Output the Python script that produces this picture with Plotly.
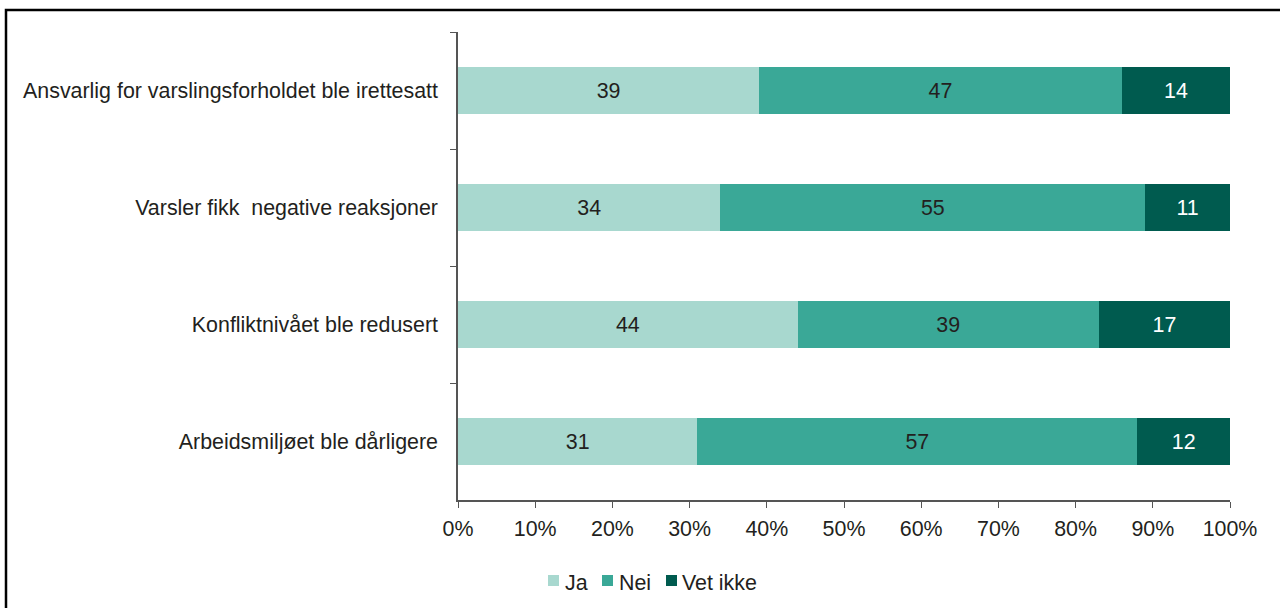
import plotly.graph_objects as go

categories = [
    "Ansvarlig for varslingsforholdet ble irettesatt",
    "Varsler fikk  negative reaksjoner",
    "Konfliktnivået ble redusert",
    "Arbeidsmiljøet ble dårligere",
]
ja = [39, 34, 44, 31]
nei = [47, 55, 39, 57]
vet_ikke = [14, 11, 17, 12]
x_ticks = [0, 10, 20, 30, 40, 50, 60, 70, 80, 90, 100]

FONT = "Liberation Sans, Arial, sans-serif"
FS = 21.4
TEXT = "#231f20"
AXIS = "#555555"

series = [
    ("Ja", ja, "#a8d8cf", TEXT),
    ("Nei", nei, "#3aa897", TEXT),
    ("Vet ikke", vet_ikke, "#005b4f", "white"),
]

fig = go.Figure()
for name, vals, color, tcolor in series:
    fig.add_trace(go.Bar(
        name=name,
        y=categories,
        x=vals,
        orientation="h",
        marker=dict(color=color, line=dict(width=0)),
        text=[str(v) for v in vals],
        textposition="inside",
        insidetextanchor="middle",
        textangle=0,
        textfont=dict(family=FONT, size=FS, color=tcolor),
        hoverinfo="skip",
        showlegend=False,
    ))

W, H = 1280, 608
L, R, T, B = 458, 50, 32, 108
pw, ph = W - L - R, H - T - B

def px_x(x):
    return (x - L) / pw

def px_y(y):
    return 1 - (y - T) / ph

# compact legend: small square key followed by its label
legend_keys = [(548, 563), (602, 617), (666, 680)]
shapes = []
annotations = []
for (name, _, color, _), (kx, tx) in zip(series, legend_keys):
    shapes.append(dict(
        type="rect", xref="paper", yref="paper",
        x0=px_x(kx), x1=px_x(kx + 11), y0=px_y(586), y1=px_y(575),
        line=dict(width=0), fillcolor=color,
    ))
    annotations.append(dict(
        xref="paper", yref="paper", x=px_x(tx), y=px_y(583),
        xanchor="left", yanchor="middle", showarrow=False,
        text=name, font=dict(family=FONT, size=FS, color=TEXT),
    ))

# outer frame
shapes.append(dict(
    type="rect", xref="paper", yref="paper",
    x0=px_x(6), x1=px_x(1300), y0=px_y(640), y1=px_y(10),
    line=dict(color="black", width=2.5),
    fillcolor="rgba(0,0,0,0)",
    layer="above",
))

fig.update_layout(
    width=W, height=H,
    barmode="stack",
    bargap=0.59,
    margin=dict(l=L, r=R, t=T, b=B),
    paper_bgcolor="white",
    plot_bgcolor="white",
    font=dict(family=FONT, size=FS, color=TEXT),
    uniformtext=dict(minsize=FS, mode="show"),
    showlegend=False,
    xaxis=dict(
        range=[0, 100],
        tickmode="array",
        tickvals=x_ticks,
        ticktext=[f"{t}%" for t in x_ticks],
        showgrid=False,
        zeroline=False,
        showline=True,
        linecolor=AXIS,
        linewidth=1.5,
        ticks="outside",
        ticklen=6,
        tickcolor=AXIS,
        ticklabelstandoff=3,
        tickfont=dict(family=FONT, size=FS, color=TEXT),
        fixedrange=True,
    ),
    yaxis=dict(
        autorange="reversed",
        showgrid=False,
        showline=True,
        linecolor=AXIS,
        linewidth=1.5,
        ticks="outside",
        tickson="boundaries",
        ticklen=6,
        tickcolor=AXIS,
        ticklabelstandoff=14,
        tickfont=dict(family=FONT, size=FS, color=TEXT),
        fixedrange=True,
    ),
    shapes=shapes,
    annotations=annotations,
)

fig.write_html("out.html")
